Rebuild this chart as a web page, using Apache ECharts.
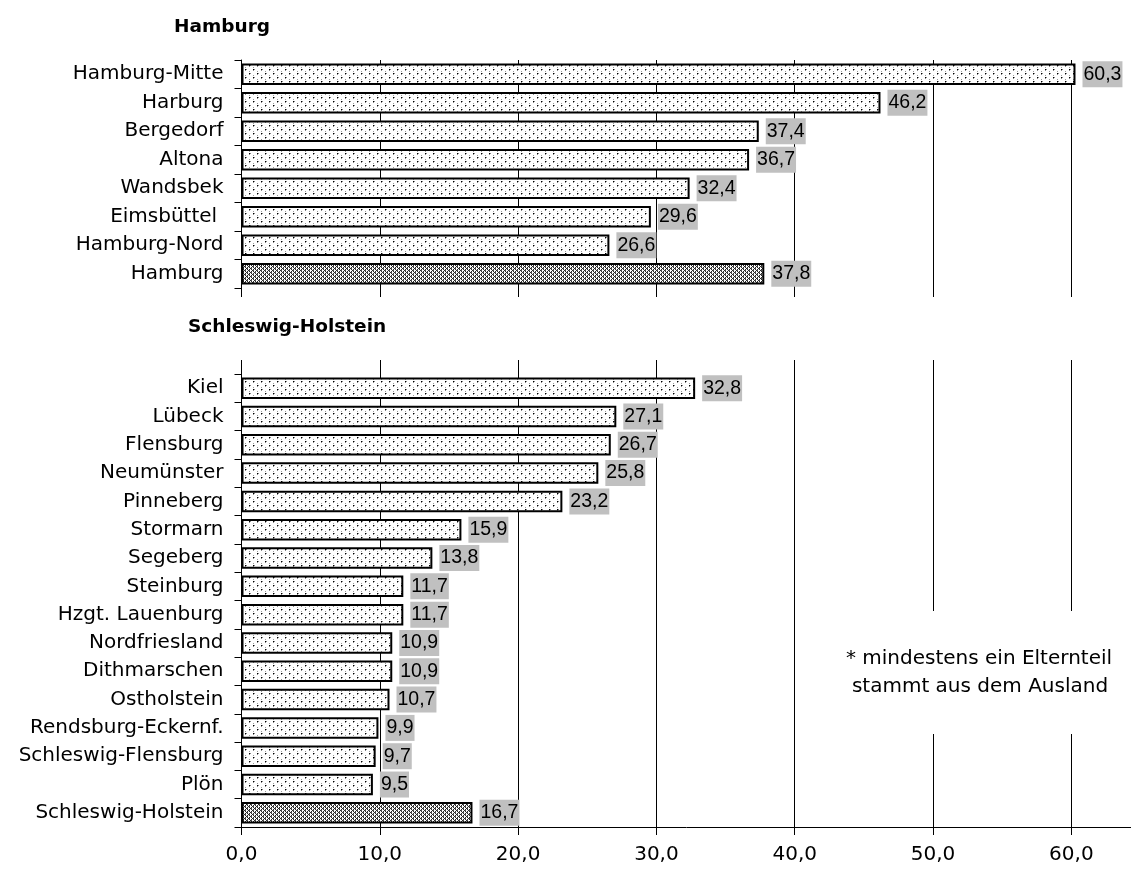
<!DOCTYPE html>
<html>
<head>
<meta charset="utf-8">
<script src="https://cdn.jsdelivr.net/npm/echarts@6/dist/echarts.min.js"></script>
<style>
html,body{margin:0;padding:0;background:#fff;}
#chart{width:1131px;height:871px;}
</style>
</head>
<body>
<div id="chart"></div>
<script>
// ---- data ----
const hhTitle = 'Hamburg';
const hhCategories = ['Hamburg-Mitte', 'Harburg', 'Bergedorf', 'Altona', 'Wandsbek', 'Eimsbüttel ', 'Hamburg-Nord', 'Hamburg'];
const hhValues = [60.3, 46.2, 37.4, 36.7, 32.4, 29.6, 26.6, 37.8];

const shTitle = 'Schleswig-Holstein';
const shCategories = ['Kiel', 'Lübeck', 'Flensburg', 'Neumünster', 'Pinneberg', 'Stormarn', 'Segeberg', 'Steinburg',
  'Hzgt. Lauenburg', 'Nordfriesland', 'Dithmarschen', 'Ostholstein', 'Rendsburg-Eckernf.', 'Schleswig-Flensburg', 'Plön', 'Schleswig-Holstein'];
const shValues = [32.8, 27.1, 26.7, 25.8, 23.2, 15.9, 13.8, 11.7, 11.7, 10.9, 10.9, 10.7, 9.9, 9.7, 9.5, 16.7];

const xTickStep = 10;
const xMin = 0;
const xMax = 64.35;
const noteLines = ['* mindestens ein Elternteil', 'stammt aus dem Ausland'];

// ---- patterns ----
function makeDots() {
  const c = document.createElement('canvas');
  c.width = 8; c.height = 8;
  const g = c.getContext('2d');
  g.fillStyle = '#fff'; g.fillRect(0, 0, 8, 8);
  [[1, 1], [5, 5]].forEach(p => {
    g.fillStyle = '#000'; g.fillRect(p[0], p[1], 1, 1);
    g.fillStyle = '#8a8a8a'; g.fillRect(p[0] + 1, p[1], 1, 1); g.fillRect(p[0], p[1] + 1, 1, 1);
  });
  [[5, 3], [1, 7]].forEach(p => {
    g.fillStyle = '#9a9a9a'; g.fillRect(p[0], p[1], 1, 1);
  });
  return c;
}
function makeHatch() {
  const c = document.createElement('canvas');
  c.width = 4; c.height = 4;
  const g = c.getContext('2d');
  g.fillStyle = '#fff'; g.fillRect(0, 0, 4, 4);
  g.fillStyle = '#2a2a2a';
  for (let x = 0; x < 4; x++) for (let y = 0; y < 4; y++) {
    if ((x + y) % 2 === 0 && !(x === 0 && y === 0) && !(x === 2 && y === 2)) g.fillRect(x, y, 1, 1);
  }
  g.fillStyle = '#555';
  g.fillRect(1, 2, 1, 1); g.fillRect(3, 0, 1, 1);
  return c;
}
const dotFill = { image: makeDots(), repeat: 'repeat' };
const hatchFill = { image: makeHatch(), repeat: 'repeat' };

const fmt = v => v.toFixed(1).replace('.', ',');
const catFont = 'DejaVu Sans';

function barData(vals) {
  return vals.map((v, i) => ({
    value: v,
    itemStyle: { color: i === vals.length - 1 ? hatchFill : dotFill }
  }));
}

function barSeries(idx, vals) {
  return {
    type: 'bar',
    xAxisIndex: idx === 0 ? 0 : 1,
    yAxisIndex: idx,
    data: barData(vals),
    barCategoryGap: '24%',
    itemStyle: { borderColor: '#000', borderWidth: 2 },
    label: {
      show: true,
      position: 'right',
      distance: 7,
      formatter: p => fmt(p.value),
      backgroundColor: '#c0c0c0',
      padding: [4, 1, 2, 1],
      fontFamily: 'Liberation Sans, Arial',
      fontSize: 19.5,
      color: '#000'
    },
    emphasis: { disabled: true },
    silent: true
  };
}

function yAxisDef(gridIndex, cats) {
  return {
    type: 'category',
    gridIndex: gridIndex,
    data: cats,
    inverse: true,
    axisLine: { show: true, lineStyle: { color: '#000', width: 1 } },
    axisTick: { show: true, length: 7, lineStyle: { color: '#000' } },
    axisLabel: { fontFamily: catFont, fontSize: 20, color: '#000', margin: 18 },
    splitLine: { show: false }
  };
}

const splitLineStyle = { show: true, lineStyle: { color: '#000', width: 1, type: 'solid' } };

const option = {
  animation: false,
  backgroundColor: '#fff',
  textStyle: { fontFamily: catFont },
  grid: [
    { left: 241.5, top: 60, width: 890, height: 228, outerBoundsMode: 'none', containLabel: false },
    { left: 241.5, top: 374, width: 890, height: 453, outerBoundsMode: 'none', containLabel: false }
  ],
  xAxis: [
    {
      type: 'value', gridIndex: 0, min: xMin, max: xMax, interval: xTickStep, position: 'bottom',
      axisLine: { show: false },
      axisTick: { show: true, length: 9, lineStyle: { color: '#000' } },
      axisLabel: { show: false },
      splitLine: splitLineStyle
    },
    {
      type: 'value', gridIndex: 1, min: xMin, max: xMax, interval: xTickStep, position: 'bottom',
      axisLine: { show: true, lineStyle: { color: '#000', width: 1 } },
      axisTick: { show: true, length: 8, lineStyle: { color: '#000' } },
      axisLabel: { fontFamily: catFont, fontSize: 20, color: '#000', margin: 18, formatter: v => fmt(v), showMaxLabel: false },
      splitLine: splitLineStyle
    },
    {
      type: 'value', gridIndex: 1, min: xMin, max: xMax, interval: xTickStep, position: 'top',
      axisLine: { show: false },
      axisTick: { show: true, length: 14, lineStyle: { color: '#000' } },
      axisLabel: { show: false },
      splitLine: { show: false }
    }
  ],
  yAxis: [yAxisDef(0, hhCategories), yAxisDef(1, shCategories)],
  series: [barSeries(0, hhValues), barSeries(1, shValues)],
  graphic: [
    { type: 'text', x: 174, y: 27.5, z: 100,
      style: { text: hhTitle, font: 'bold 18.5px DejaVu Sans', fill: '#000', align: 'left', verticalAlign: 'middle' } },
    { type: 'text', x: 188, y: 326.7, z: 100,
      style: { text: shTitle, font: 'bold 18.5px DejaVu Sans', fill: '#000', align: 'left', verticalAlign: 'middle' } },
    { type: 'rect', z: 100, shape: { x: 802, y: 611, width: 329, height: 123 }, style: { fill: '#fff' } },
    { type: 'text', x: 979, y: 659, z: 101,
      style: { text: noteLines[0], font: '20px DejaVu Sans', fill: '#000', align: 'center', verticalAlign: 'middle' } },
    { type: 'text', x: 980, y: 687, z: 101,
      style: { text: noteLines[1], font: '20px DejaVu Sans', fill: '#000', align: 'center', verticalAlign: 'middle' } }
  ]
};

const chart = echarts.init(document.getElementById('chart'), null, { renderer: 'canvas' });
chart.setOption(option);
</script>
</body>
</html>
